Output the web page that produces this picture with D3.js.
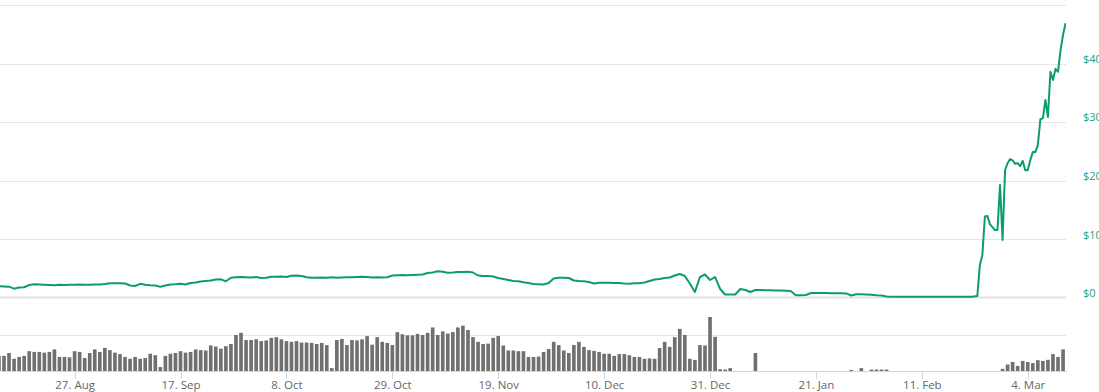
<!DOCTYPE html>
<html lang="en">
<head>
    <meta charset="UTF-8">
    <title>Price and volume</title>
    <script src="https://cdn.jsdelivr.net/npm/d3@7"></script>
</head>
<body>
<style>
    body {
        margin: 0;
        background-color: white;
    }

    svg {
        display: block;
        width: 1099px;
        height: 392px;
        font-family: "Open Sans", "DejaVu Sans", sans-serif;
    }

    .grid line {
        stroke: #e6e6e6;
        shape-rendering: crispEdges;
    }

    .xAxis path,
    .xAxis line {
        stroke: #ccd6eb;
        shape-rendering: crispEdges;
    }

    .xAxis text {
        font-size: 11.5px;
        fill: #666666;
    }

    .yAxis text {
        font-size: 11px;
        fill: #26a085;
    }

    .priceLine {
        fill: none;
        stroke: #0c9c70;
        stroke-width: 2;
        stroke-linejoin: round;
    }

    .volBar {
        fill: #707070;
    }
</style>

<svg></svg>

<script>
    // daily closing price in $, from 12 Aug 2017
    var priceAug = [2.00, 1.96, 1.93, 1.59, 1.79, 1.83, 2.22, 2.34, 2.30, 2.27, 2.22, 2.17, 2.25, 2.22, 2.27, 2.27, 2.30, 2.27, 2.25, 2.29];
    var priceSep = [2.32, 2.39, 2.53, 2.51, 2.53, 2.47, 2.13, 2.05, 2.42, 2.25, 2.17, 2.13, 1.93, 2.13, 2.30, 2.34, 2.44, 2.30, 2.56, 2.65,
        2.82, 2.90, 2.99, 3.16, 3.19, 2.85, 3.46, 3.53, 3.58, 3.55];
    var priceOct = [3.50, 3.58, 3.41, 3.45, 3.62, 3.63, 3.67, 3.60, 3.79, 3.84, 3.75, 3.53, 3.46, 3.46, 3.50, 3.46, 3.53, 3.46, 3.50, 3.55,
        3.53, 3.58, 3.63, 3.57, 3.51, 3.55, 3.50, 3.53, 3.84, 3.89, 3.92];
    var priceNov = [3.87, 3.92, 3.96, 4.01, 4.27, 4.35, 4.56, 4.47, 4.32, 4.35, 4.44, 4.44, 4.47, 4.35, 3.84, 3.75, 3.75, 3.67, 3.41, 3.24,
        3.07, 2.90, 2.85, 2.68, 2.56, 2.39, 2.34, 2.30, 2.56, 3.33];
    var priceDec = [3.46, 3.46, 3.41, 2.99, 2.90, 2.85, 2.73, 2.47, 2.61, 2.61, 2.59, 2.56, 2.56, 2.47, 2.44, 2.51, 2.51, 2.65, 2.90, 3.16,
        3.24, 3.41, 3.50, 3.84, 4.10, 3.75, 2.47, 1.02, 3.58, 4.01, 3.07];
    var priceJan = [3.58, 1.54, 0.60, 0.60, 0.60, 1.54, 1.37, 1.02, 1.37, 1.37, 1.31, 1.31, 1.28, 1.28, 1.25, 1.19, 0.46, 0.46, 0.51, 0.85,
        0.85, 0.85, 0.85, 0.82, 0.82, 0.80, 0.78, 0.43, 0.63, 0.63, 0.60];
    var priceFeb = [0.55, 0.46, 0.43, 0.26, 0.22, 0.22, 0.20, 0.20, 0.20, 0.20, 0.20, 0.20, 0.20, 0.20, 0.20, 0.20, 0.20, 0.20, 0.20, 0.20, 0.20];
    // twelve-hourly price from 22 Feb 2018
    var priceRally = [0.34, 5.6, 7.34, 13.9, 14.0, 12.6, 12.1, 11.6, 11.6, 19.3, 9.9, 21.8, 23.0, 23.7, 23.5, 22.9, 23.0, 22.5,
        23.4, 21.8, 21.8, 23.5, 24.9, 24.9, 26.1, 30.5, 30.7, 33.8, 30.9, 38.6, 37.2, 39.1, 38.6, 42.3, 44.9, 46.9];

    // daily volume (1 = lower grid line), from 12 Aug 2017
    var volAug = [0.42, 0.42, 0.50, 0.34, 0.39, 0.42, 0.55, 0.53, 0.53, 0.51, 0.53, 0.60, 0.39, 0.39, 0.38, 0.55, 0.53, 0.36, 0.50, 0.60];
    var volSep = [0.53, 0.64, 0.58, 0.51, 0.47, 0.39, 0.34, 0.39, 0.34, 0.36, 0.48, 0.44, 0.11, 0.42, 0.48, 0.50, 0.55, 0.51, 0.53, 0.60,
        0.58, 0.57, 0.71, 0.68, 0.62, 0.69, 0.75, 1.00, 1.06, 0.86];
    var volOct = [0.86, 0.88, 0.83, 0.85, 0.92, 0.94, 0.88, 0.83, 0.81, 0.83, 0.79, 0.79, 0.78, 0.75, 0.78, 0.72, 0.08, 0.86, 0.89, 0.72,
        0.86, 0.85, 0.88, 0.97, 0.73, 0.94, 0.81, 0.78, 0.72, 1.08, 1.02];
    var volNov = [0.99, 0.99, 1.03, 1.00, 1.06, 1.21, 1.00, 1.10, 1.04, 1.08, 1.21, 1.26, 1.14, 0.94, 0.81, 0.75, 0.76, 0.92, 0.97, 0.71,
        0.57, 0.57, 0.55, 0.55, 0.39, 0.39, 0.40, 0.53, 0.61, 0.81];
    var volDec = [0.72, 0.57, 0.50, 0.72, 0.81, 0.67, 0.58, 0.56, 0.53, 0.48, 0.48, 0.42, 0.47, 0.47, 0.44, 0.39, 0.39, 0.34, 0.35, 0.34,
        0.64, 0.81, 0.67, 0.94, 1.17, 1.00, 0.34, 0.31, 0.72, 0.71, 1.50];
    var volJan = [0.95, 0.05, 0.04, 0.08, 0, 0, 0, 0, 0.50, 0, 0, 0, 0, 0, 0, 0, 0, 0, 0, 0,
        0, 0, 0, 0, 0, 0, 0, 0.03, 0, 0.08, 0];
    var volFeb = [0.04, 0.04, 0.04, 0.04, 0, 0, 0, 0, 0, 0, 0, 0, 0, 0, 0, 0, 0, 0, 0, 0,
        0, 0, 0, 0, 0, 0, 0.06, 0.18];
    var volMar = [0.25, 0.14, 0.28, 0.25, 0.22, 0.30, 0.28, 0.31, 0.47, 0.39, 0.60];

    var tickDates = ["2017-08-27", "2017-09-17", "2017-10-08", "2017-10-29", "2017-11-19",
        "2017-12-10", "2017-12-31", "2018-01-21", "2018-02-11", "2018-03-04"];
    var priceTicks = [0, 10, 20, 30, 40];
    var priceGrid = [0, 10, 20, 30, 40, 50];
    var volGrid = [1];

    var W = 1066, volBottom = 371;
    var start = new Date(Date.UTC(2017, 7, 12));

    var daily = priceAug.concat(priceSep, priceOct, priceNov, priceDec, priceJan, priceFeb);
    var price = daily.map(function (v, i) {
        return {date: d3.utcDay.offset(start, i), value: v};
    });
    var rallyStart = d3.utcDay.offset(start, daily.length);
    priceRally.forEach(function (v, i) {
        price.push({date: d3.utcHour.offset(rallyStart, 12 * i), value: v});
    });
    var volume = volAug.concat(volSep, volOct, volNov, volDec, volJan, volFeb, volMar).map(function (v, i) {
        return {date: d3.utcDay.offset(start, i), value: v};
    });

    var svg = d3.select("svg");
    var x = d3.scaleUtc()
            .domain([new Date(Date.UTC(2017, 7, 12, 5)), new Date(Date.UTC(2018, 2, 11, 14))])
            .range([0, W]);
    var y = d3.scaleLinear().domain([0, 50]).range([298, 5]);
    var yVol = d3.scaleLinear().domain([0, 2]).range([volBottom, 299]);

    svg.append("defs").append("clipPath").attr("id", "plot")
            .append("rect").attr("x", 0).attr("y", 0).attr("width", W).attr("height", volBottom);

    // grid lines
    var grid = svg.append("g").attr("class", "grid");
    grid.selectAll(".pg")
            .data(priceGrid.filter(function (d) { return d > 0; }))
            .enter().append("line")
            .attr("x1", 0).attr("x2", W)
            .attr("y1", function (d) { return Math.round(y(d)) + 0.5; })
            .attr("y2", function (d) { return Math.round(y(d)) + 0.5; });
    grid.selectAll(".vg")
            .data(volGrid)
            .enter().append("line")
            .attr("x1", 0).attr("x2", W)
            .attr("y1", function (d) { return Math.round(yVol(d)) + 0.5; })
            .attr("y2", function (d) { return Math.round(yVol(d)) + 0.5; });
    svg.append("line")
            .attr("x1", 0).attr("x2", W)
            .attr("y1", y(0) - 0.5).attr("y2", y(0) - 0.5)
            .attr("stroke", "#e3e3e3").attr("stroke-width", 2);

    // volume bars
    var step = x(d3.utcDay.offset(start, 1)) - x(start);
    var bw = step * 0.72;
    svg.append("g").attr("clip-path", "url(#plot)")
            .selectAll(".volBar")
            .data(volume.filter(function (d) { return d.value > 0; }))
            .enter().append("rect")
            .attr("class", "volBar")
            .attr("x", function (d) { return x(d.date) - bw / 2; })
            .attr("width", bw)
            .attr("y", function (d) { return yVol(d.value); })
            .attr("height", function (d) { return volBottom - yVol(d.value); });

    // price line
    var line = d3.line()
            .x(function (d) { return x(d.date); })
            .y(function (d) { return y(d.value); });
    svg.append("path")
            .datum(price)
            .attr("class", "priceLine")
            .attr("clip-path", "url(#plot)")
            .attr("d", line);

    // x axis
    var parse = d3.utcParse("%Y-%m-%d");
    var axisX = d3.axisBottom(x)
            .tickValues(tickDates.map(parse))
            .tickFormat(d3.utcFormat("%-d. %b"))
            .tickSize(8)
            .tickSizeOuter(0)
            .tickPadding(1.5);
    svg.append("g")
            .attr("class", "xAxis")
            .attr("transform", "translate(0," + volBottom + ")")
            .call(axisX);

    // y axis labels (right side)
    var axisY = d3.axisRight(y)
            .tickValues(priceTicks)
            .tickFormat(function (d) { return "$" + d; })
            .tickSize(0)
            .tickPadding(17);
    var gy = svg.append("g")
            .attr("class", "yAxis")
            .attr("transform", "translate(" + W + ",0)")
            .call(axisY);
    gy.select(".domain").remove();
    gy.selectAll("text").attr("dy", "-0.12em");
    svg.selectAll(".xAxis, .yAxis").attr("font-family", null).attr("font-size", null);
</script>
</body>
</html>
